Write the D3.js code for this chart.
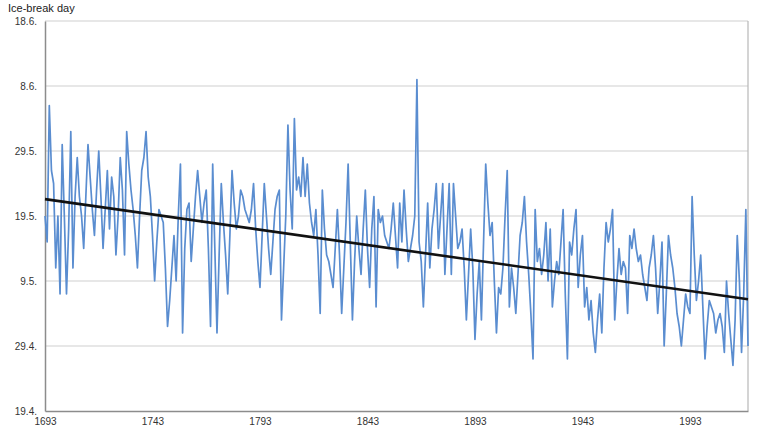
<!DOCTYPE html>
<html>
<head>
<meta charset="utf-8">
<script src="https://cdn.jsdelivr.net/npm/d3@7"></script>
<style>
  body { margin: 0; background: #fff; }
  svg text { font-family: "Liberation Sans", Arial, sans-serif; }
</style>
</head>
<body>
<div id="graph"></div>
<script>
// ice-break day, counted as days after 19 April, one value per year from 1693
const firstYear = 1693;
const iceBreak = [
  30, 26, 47, 37, 35, 22, 30, 18, 41, 30,
  18, 28, 43, 22, 33, 39, 33, 30, 25, 33,
  41, 36, 31, 27, 34, 40, 33, 25, 31, 37,
  28, 36, 33, 24, 30, 39, 34, 24, 43, 38,
  34, 31, 27, 22, 30, 37, 39, 43, 36, 33,
  27, 20, 26, 31, 30, 29, 22, 13, 17, 22,
  27, 20, 30, 38, 12, 25, 31, 32, 23, 28,
  33, 37, 33, 29, 32, 34, 25, 13, 38, 25,
  12, 24, 35, 29, 24, 18, 27, 37, 32, 28,
  30, 34, 33, 31, 30, 29, 31, 35, 28, 23,
  19, 27, 35, 30, 25, 21, 26, 31, 33, 34,
  14, 22, 30, 44, 34, 28, 45, 34, 36, 33,
  39, 33, 38, 32, 29, 27, 31, 24, 15, 34,
  28, 24, 23, 21, 19, 25, 31, 24, 15, 22,
  29, 38, 26, 14, 23, 30, 25, 21, 28, 34,
  25, 19, 28, 33, 16, 31, 29, 30, 27, 26,
  25, 28, 32, 27, 22, 32, 26, 34, 28, 23,
  25, 27, 30, 51, 26, 23, 16, 24, 32, 22,
  28, 31, 35, 25, 30, 35, 21, 28, 35, 21,
  35, 30, 25, 26, 28, 22, 14, 21, 28, 22,
  11, 18, 23, 14, 26, 38, 32, 27, 29, 20,
  12, 19, 18, 22, 30, 37, 16, 22, 19, 15,
  21, 27, 29, 33, 26, 21, 15, 8, 31, 23,
  25, 21, 24, 29, 20, 28, 16, 20, 23, 21,
  26, 31, 18, 8, 26, 24, 28, 31, 19, 24,
  27, 16, 19, 14, 17, 12, 9, 14, 18, 12,
  22, 29, 26, 28, 31, 14, 20, 25, 21, 23,
  22, 15, 27, 25, 28, 25, 23, 24, 21, 19,
  17, 22, 24, 27, 22, 15, 20, 26, 10, 18,
  27, 24, 22, 19, 15, 13, 10, 14, 18, 16,
  15, 33, 24, 17, 20, 24, 16, 8, 13, 17,
  16, 15, 12, 14, 15, 13, 9, 20, 15, 11,
  7, 14, 27, 20, 9, 18, 31, 10
];
const years = iceBreak.map((v, i) => firstYear + i);
const yearLabels = [1693, 1743, 1793, 1843, 1893, 1943, 1993];
const dayTicks = [0, 10, 20, 30, 40, 50, 60];
const dayLabels = ["19.4.", "29.4.", "9.5.", "19.5.", "29.5.", "8.6.", "18.6."];
const trendEnds = [32.6, 17.2];

const width = 773, height = 434;
const margin = {top: 21, right: 25, bottom: 23, left: 45};

const svg = d3.select("#graph").append("svg")
  .attr("width", width)
  .attr("height", height);

const x = d3.scalePoint()
  .domain(years)
  .range([margin.left, width - margin.right]);

const y = d3.scaleLinear()
  .domain([0, 60])
  .range([height - margin.bottom, margin.top]);

// gridlines
svg.append("g")
  .selectAll("line")
  .data(dayTicks.slice(1))
  .enter().append("line")
  .attr("x1", margin.left)
  .attr("x2", width - margin.right)
  .attr("y1", d => y(d))
  .attr("y2", d => y(d))
  .attr("stroke", "#cfcfcf")
  .attr("stroke-width", 1.2);

// right border of plot area
svg.append("line")
  .attr("x1", width - margin.right)
  .attr("x2", width - margin.right)
  .attr("y1", y(60))
  .attr("y2", y(0))
  .attr("stroke", "#b8b8b8")
  .attr("stroke-width", 1.2);

// y axis
const yAxis = svg.append("g")
  .attr("transform", `translate(${margin.left},0)`)
  .call(d3.axisLeft(y).tickValues(dayTicks).tickSize(0).tickPadding(8)
    .tickFormat((d, i) => dayLabels[i]));
yAxis.select(".domain").attr("stroke", "#8c8c8c").attr("stroke-width", 1.5);
yAxis.selectAll("text").attr("font-size", 10).attr("fill", "#333");

// x axis
const xAxis = svg.append("g")
  .attr("transform", `translate(0,${y(0)})`)
  .call(d3.axisBottom(x).tickValues(yearLabels).tickSize(0).tickPadding(7));
xAxis.select(".domain").attr("stroke", "#8c8c8c").attr("stroke-width", 1.5);
xAxis.selectAll("text").attr("font-size", 10).attr("fill", "#333");

// series
const line = d3.line()
  .x((d, i) => x(years[i]))
  .y(d => y(d));

svg.append("path")
  .datum(iceBreak)
  .attr("fill", "none")
  .attr("stroke", "#5a8dd0")
  .attr("stroke-width", 1.7)
  .attr("stroke-linejoin", "round")
  .attr("d", line);

// linear trend
svg.append("line")
  .attr("x1", x(years[0]))
  .attr("x2", x(years[years.length - 1]))
  .attr("y1", y(trendEnds[0]))
  .attr("y2", y(trendEnds[1]))
  .attr("stroke", "#111")
  .attr("stroke-width", 2.6);

svg.append("text")
  .attr("x", 8)
  .attr("y", 12)
  .attr("font-size", 11)
  .attr("fill", "#222")
  .text("Ice-break day");
</script>
</body>
</html>
